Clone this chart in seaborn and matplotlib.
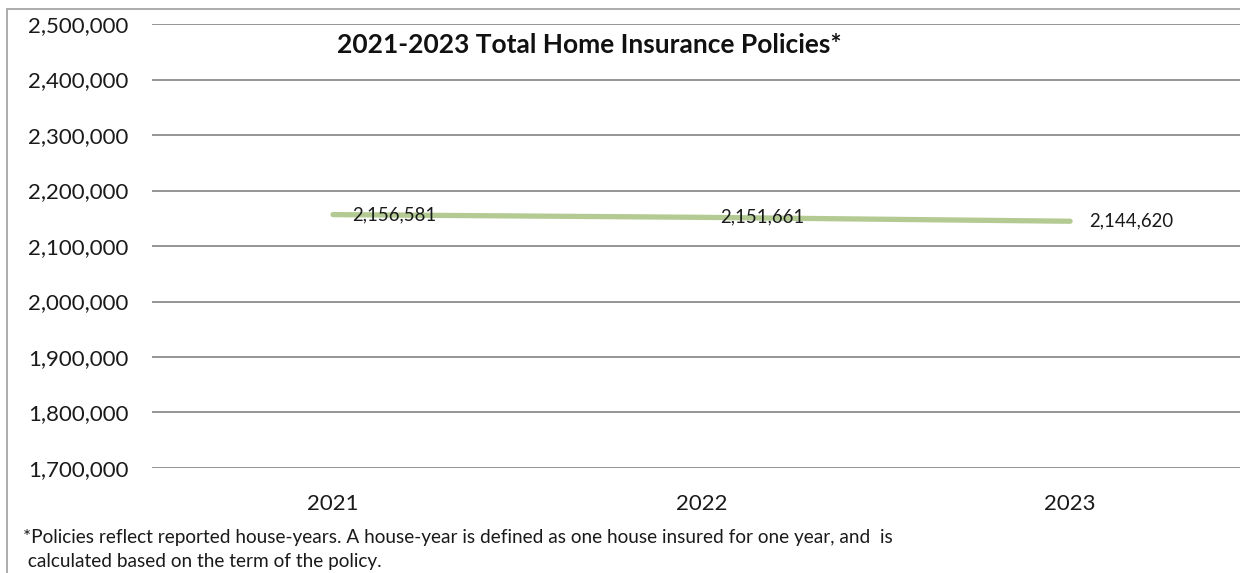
import matplotlib
matplotlib.use("Agg")
import matplotlib.pyplot as plt
from matplotlib.lines import Line2D
from matplotlib.ticker import FuncFormatter
import seaborn as sns
import pandas as pd

years = ["2021", "2022", "2023"]
policies = [2156581, 2151661, 2144620]
y_ticks = [1700000, 1800000, 1900000, 2000000, 2100000, 2200000, 2300000, 2400000, 2500000]

title = "2021-2023 Total Home Insurance Policies*"
footnote_lines = [
    "*Policies reflect reported house-years. A house-year is defined as one house insured for one year, and  is",
    " calculated based on the term of the policy.",
]

sns.set_theme(style="white")
plt.rcParams["font.family"] = ["Lato", "DejaVu Sans"]

W, H = 1240, 573
fig = plt.figure(figsize=(W / 100, H / 100), dpi=100)
ax = fig.add_axes([152 / W, 1 - 468 / H, (W - 152) / W, (468 - 24) / H])

df = pd.DataFrame({"year": years, "policies": policies})
sns.lineplot(data=df, x="year", y="policies", ax=ax, color="#b3cb92",
             linewidth=3.8, solid_capstyle="round", sort=False)

ax.set_ylim(y_ticks[0], y_ticks[-1])
ax.set_xlim(-0.491, 2.461)
ax.set_yticks(y_ticks)
ax.yaxis.set_major_formatter(FuncFormatter(lambda v, p: f"{int(v):,}"))
ax.grid(axis="y", color="#8c8c8c", linewidth=1.3)
ax.grid(axis="x", visible=False)
for s in ax.spines.values():
    s.set_visible(False)
ax.tick_params(axis="y", length=0, pad=17, labelsize=16, labelcolor="#1a1a1a")
ax.tick_params(axis="x", length=0, pad=19, labelsize=16, labelcolor="#1a1a1a")
ax.set_xlabel("")
ax.set_ylabel("")

for i, v in enumerate(policies):
    ax.annotate(f"{v:,}", xy=(i, v), xytext=(13.5, 0), textcoords="offset points",
                ha="left", va="center", fontsize=13.4, color="#1a1a1a")

fig.text(589 / W, 1 - 45 / H, title, ha="center", va="center",
         fontsize=19, fontweight="bold", color="#111111")
for line, yc in zip(footnote_lines, [537, 561]):
    fig.text(23 / W, 1 - yc / H, line, ha="left", va="center",
             fontsize=13.7, color="#1a1a1a")

# chart frame
fig.add_artist(Line2D([7 / W, 7 / W], [0, 1 - 9 / H], color="#a6a6a6", linewidth=1.3,
                      transform=fig.transFigure))
fig.add_artist(Line2D([7 / W, 1], [1 - 9 / H, 1 - 9 / H], color="#a6a6a6", linewidth=1.3,
                      transform=fig.transFigure))

fig.savefig("out.png", dpi=100, facecolor="white")
